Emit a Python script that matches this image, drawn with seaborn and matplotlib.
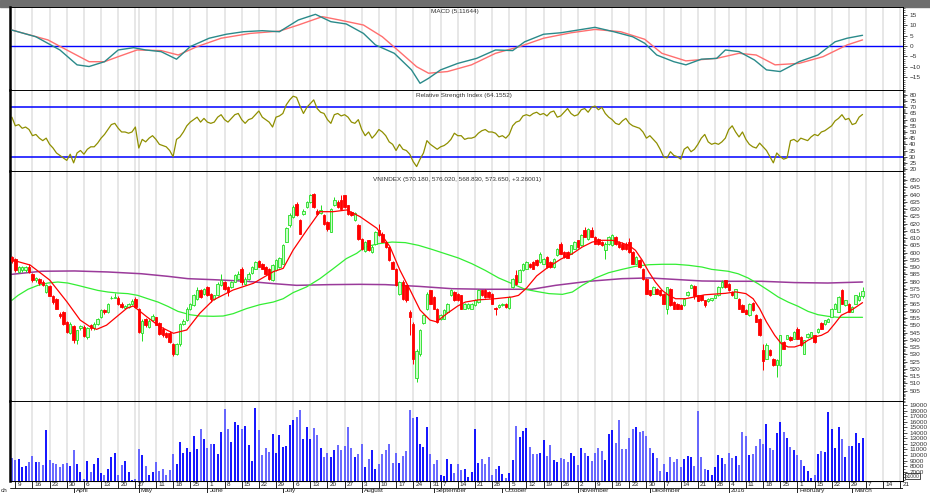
import numpy as np
import pandas as pd
import matplotlib
matplotlib.use("Agg")
import matplotlib.pyplot as plt
import seaborn as sns
from matplotlib.ticker import MultipleLocator, FixedLocator
from matplotlib.patches import Rectangle

# trading calendar (HOSE holidays removed)
holidays = pd.to_datetime(['2015-04-28', '2015-04-29', '2015-04-30', '2015-05-01',
                           '2015-09-01', '2015-09-02', '2016-01-01',
                           '2016-02-08', '2016-02-09', '2016-02-10', '2016-02-11', '2016-02-12'])

# daily candles, 6 Mar 2015 .. 4 Mar 2016
opens = [597, 595.5, 587, 588, 588, 590, 585, 581, 582, 580,
         573, 577, 570, 568, 557.5, 559, 552, 545, 549.5, 539.7,
         548, 549, 542, 550, 548, 551, 555.7, 560.5, 559.2, 568.5,
         569, 569, 565, 562, 562.6, 564.9, 568.3, 561.5, 545, 554.5,
         548.5, 553.5, 555.5, 551.8, 547.7, 545, 545, 537, 530, 537,
         551, 553.5, 561.5, 563.8, 568.3, 574, 571.8, 576.4, 571.8, 568.3,
         570.6, 577.5, 579.8, 576.4, 576.4, 579.8, 582, 589, 578.7, 582,
         586, 589, 594, 592.4, 590.1, 589, 581, 588, 590, 592.4,
         607.3, 618.8, 624.5, 633.7, 622.2, 626.8, 631.4, 634.9, 640.6, 629,
         627, 625.7, 621, 614.2, 632.5, 635, 636, 639.4, 632.5, 628,
         622.2, 618.8, 609.6, 601, 608.5, 600.5, 606.2, 615.4, 613.1, 607,
         603.9, 593.6, 589, 571.8, 579.8, 577.5, 559.2, 551, 514, 530,
         551.8, 561, 574, 569.5, 561.5, 554.6, 554.6, 559.2, 570.6, 573,
         571.8, 570.6, 561.5, 562, 561.5, 563.8, 566, 574, 574, 572.9,
         571.8, 561.8, 562.6, 563.8, 564.9, 562, 576.4, 584.4, 579.8, 587.8,
         589, 592.4, 593.6, 594.7, 593.6, 592.4, 597, 593.6, 590.1, 598.6,
         606.2, 600.5, 600.5, 599.3, 602.7, 608.5, 605, 615.4, 609.6, 615.4,
         610.8, 609.6, 607.3, 601.6, 606.2, 605, 610.8, 607.3, 606.2, 606.2,
         607.3, 600.5, 592.4, 594.7, 589, 582.1, 574, 571.8, 575.2, 574,
         571.8, 561.5, 575.2, 566, 564.9, 563.8, 563.8, 570.6, 575.7, 577,
         570.6, 570.6, 567.2, 566.5, 567.2, 568.8, 570.6, 576.4, 580.9, 578.7,
         572.9, 568.8, 568.3, 563.8, 560.3, 556.9, 565.6, 556.9, 554.6, 532.8,
         527.1, 532.8, 527.1, 522.5, 522.5, 538.5, 540.8, 542, 540.8, 547.7,
         542, 530.5, 541.9, 542, 543.1, 545.4, 551.8, 551.1, 552.3, 555.7,
         561.5, 559.2, 574, 563.8, 565, 559.2, 564.9, 567.5, 570.18]
highs = [598, 596, 591, 591, 591, 592, 586, 583, 582.5, 581,
         578.5, 578, 571, 569, 559, 560, 553, 552, 550, 547,
         550.5, 550, 549, 551, 552, 555, 561, 561, 565.5, 570,
         572.5, 570, 566, 564, 565.5, 568, 569.5, 562, 554, 555,
         554, 557.5, 556, 552.5, 548.5, 545.5, 546, 538, 537.5, 551.5,
         554, 562.5, 565.5, 571.5, 576.4, 575, 576, 577, 572.5, 571,
         579.5, 585.5, 580.5, 577, 580.5, 585, 587.5, 590, 583, 586.5,
         591, 594.5, 595, 593, 590.5, 589.5, 592, 595.5, 597, 606,
         618, 627, 632.5, 635, 623, 630, 635.5, 640.5, 641.2, 630,
         632.5, 626.5, 621.5, 631, 638.3, 636, 639.4, 640, 633, 628.5,
         628, 619.5, 610, 608, 609, 605, 615, 620, 614, 608,
         604.5, 594, 589.5, 580.5, 581, 578, 560.5, 552, 534, 547.5,
         558, 573, 574.5, 570, 562, 558, 561, 565.5, 575.2, 573.5,
         572.5, 571, 565.5, 565.5, 565.5, 568, 575, 574.5, 575.2, 573.5,
         572.5, 562.5, 564.5, 565.5, 565.5, 570, 582.5, 587.8, 588.5, 593,
         594, 593, 594, 595.5, 600.5, 596.5, 597.5, 594, 596.5, 603.5,
         607.3, 601, 601, 605.5, 608, 609, 612.5, 617.5, 617, 617.5,
         611.5, 610, 608, 607, 611.5, 612.5, 611.5, 608, 607, 607,
         610, 601, 598, 595.5, 589.5, 582.5, 574.5, 577, 576, 574.5,
         572.5, 576.4, 576, 566.5, 565.5, 564.5, 568.8, 573.5, 578.7, 578,
         571, 571, 567.5, 568.5, 569, 571, 577, 581, 581.5, 579,
         573.5, 575.2, 569, 564.5, 561, 565.5, 566, 557.5, 555, 537,
         538, 533.5, 527.5, 526.5, 543.5, 539, 543.5, 542.5, 546, 548.8,
         542.5, 540, 544.5, 545.5, 543.5, 548, 552.5, 553.8, 555, 562,
         565.5, 570, 575.2, 567.5, 565.5, 563, 571, 572.9, 576.02]
lows = [593, 587, 586, 587, 587, 586, 580, 580, 578, 577,
        572, 570, 565, 561, 555, 550, 545, 544, 537.5, 537,
        547, 542, 540.5, 547, 547, 550, 555, 558, 558.5, 568,
        568.5, 564, 562, 561.5, 562, 564, 562, 545, 539.5, 549,
        548, 553, 550, 543.5, 542, 541, 537.5, 529, 529.5, 536,
        550, 553, 560.5, 563, 567.5, 569, 571, 570, 566, 567.5,
        570, 577, 574.5, 570, 576, 579.5, 581.5, 578, 578, 581.5,
        585.5, 588.5, 590, 588.5, 585, 581, 580.5, 587.5, 589.5, 592,
        607, 618, 624, 625, 612.5, 626, 631, 634.5, 631, 626,
        626.8, 619, 615, 614, 632, 631, 630, 630.5, 626, 625,
        621.5, 609, 602, 600.5, 601, 599.5, 605.5, 611.5, 607, 603,
        594, 588.5, 577, 571, 567.5, 566, 543, 523.6, 511, 529,
        551, 560.5, 564.5, 561, 551.5, 553.5, 554, 558.5, 570, 566.5,
        566.5, 561, 561, 561.5, 561, 563, 565.5, 570, 569, 569,
        564.5, 557.4, 562, 563.5, 562, 561.5, 576, 578, 579.5, 587.5,
        588.5, 589.5, 588.5, 591, 593, 592, 589.5, 589.5, 589.5, 598,
        598.8, 596.5, 596, 599, 602.5, 603.5, 604.5, 610.5, 609, 610.5,
        606, 605.5, 604.5, 595.9, 605.5, 604.5, 605.5, 603.5, 602, 602,
        600, 592, 592, 589.5, 581.5, 571.5, 570, 571.5, 571.5, 570,
        564.5, 558, 563.5, 561, 561, 561, 563.5, 570, 575.5, 568,
        566.5, 567, 562.6, 566, 567, 568.5, 570, 576, 576, 573.5,
        570, 568.5, 561, 559, 557.5, 556.5, 560, 552, 542.5, 519,
        526.5, 529, 522, 514.4, 522, 533.5, 540.5, 539.5, 540.5, 540.5,
        536, 530, 541.5, 541.5, 538, 545, 547.5, 550.5, 552, 555.5,
        561, 559, 564.5, 563.5, 559, 559, 564.5, 567, 568.83]
closes = [594, 588, 590, 590, 590, 587, 581, 582.5, 579, 577.5,
          578, 570.5, 566, 561.5, 556.5, 551, 545.5, 551, 539.7, 546.5,
          549.5, 542.7, 548, 548, 551, 554.5, 560.3, 559, 564.9, 569,
          569.5, 565, 562.6, 563.5, 564.9, 567, 562.6, 545.4, 553, 550,
          553, 556.5, 550.5, 544.3, 543, 542, 538.5, 530, 537, 551,
          553, 561.5, 564.9, 570.6, 574, 569.5, 575.2, 570.6, 568.3, 570.6,
          578.7, 581, 575.2, 573, 579.8, 584.4, 585.5, 580, 582, 585.5,
          590, 593.6, 590.3, 589, 585.5, 582, 591.3, 594.7, 596, 605,
          617, 625.7, 631.4, 625.7, 613.1, 629, 634.9, 639.4, 631.4, 626.8,
          629.1, 620, 616.5, 630.3, 636, 631.4, 630.3, 631.4, 626.8, 625.7,
          627, 609.6, 602.7, 607.3, 601.6, 604, 614.2, 611.9, 607.3, 603.9,
          594.7, 589, 577.5, 579.8, 568.3, 567.2, 555.7, 527, 532, 546.5,
          556.9, 571.8, 565, 561.5, 552.3, 557.3, 560.3, 564.9, 574, 567.2,
          567.2, 561.5, 564.9, 564.9, 564.9, 567.2, 574, 570.6, 569.5, 569.5,
          565, 561.2, 563.8, 564.9, 562.6, 569.5, 582, 578.7, 587.8, 592.4,
          593.6, 590.1, 589, 591.3, 599.3, 595.9, 590.1, 590.1, 595.9, 602.7,
          599.3, 597, 596.3, 605, 607.3, 604, 611.9, 610.8, 616.5, 610.8,
          606.2, 606.2, 605, 606.2, 610.8, 611.9, 606.2, 603.9, 602.7, 602.7,
          600.5, 592.4, 597, 590.1, 582.1, 571.8, 570.6, 576.4, 571.8, 570.6,
          564.9, 576.4, 563.8, 561.5, 561.5, 561.5, 568.3, 572.9, 577.5, 570,
          566.7, 567.2, 564.2, 568.3, 568.8, 570.6, 576.4, 579.8, 576.4, 574,
          570.6, 574.7, 561.5, 559.2, 558, 564.9, 560.3, 552.3, 543.1, 525.2,
          536.2, 529.4, 522.5, 525.9, 543.1, 534, 543.1, 539.7, 545.4, 540.8,
          536.2, 539.7, 544.3, 545.4, 538.5, 547.7, 547.7, 553.4, 554.6, 561.5,
          564.9, 569.5, 564.9, 567.2, 559.2, 562.6, 570.6, 570.4, 573.65]
volume = [9500, 9040, 9280, 7840, 7960, 8800, 9820, 8800, 8680, 8140,
          14500, 9160, 8500, 8320, 7840, 8320, 8500, 8020, 10900, 8440,
          6880, 5600, 8920, 6940, 8320, 9400, 6760, 6400, 7420, 9640,
          10420, 6400, 8140, 8920, 7000, 5500, 5600, 11080, 10000, 8020,
          6400, 7000, 8800, 7120, 7480, 6400, 7240, 10120, 8320, 12340,
          10300, 11260, 10540, 13360, 11080, 14620, 12940, 11260, 12040, 12040,
          10180, 14080, 18220, 14680, 12280, 15940, 15460, 14680, 15220, 11740,
          8920, 18520, 14500, 9940, 11260, 10540, 13780, 10420, 13600, 11440,
          11680, 15460, 16240, 16840, 18040, 12940, 14980, 12940, 14800, 13540,
          11320, 9640, 10420, 9580, 10900, 11800, 10900, 11620, 14980, 11200,
          9640, 10120, 11980, 7840, 9280, 10840, 7480, 8380, 10180, 10900,
          11920, 8500, 10360, 8500, 9820, 10660, 18100, 16660, 16840, 12040,
          11440, 15100, 10240, 8440, 9040, 6400, 6160, 9280, 8320, 6760,
          8320, 7240, 7480, 6100, 6880, 14680, 8500, 9280, 8380, 9640,
          6400, 7480, 8020, 6520, 5920, 6700, 9040, 15160, 13240, 14320,
          14800, 11380, 10120, 10120, 10420, 12640, 9820, 11800, 9100, 8740,
          9520, 9280, 8740, 10420, 9820, 8200, 11200, 10360, 9820, 8980,
          10360, 11200, 10780, 9040, 13720, 14560, 12160, 16300, 11080, 11080,
          13000, 14740, 15100, 14140, 14320, 13360, 11200, 10420, 9460, 7120,
          8320, 7000, 9700, 8800, 9220, 7840, 9220, 9820, 9640, 8020,
          17920, 9640, 7420, 7240, 6400, 7880, 10060, 9460, 8320, 10360,
          9520, 9760, 8140, 14080, 13360, 10000, 10120, 11620, 12880, 11920,
          15520, 11200, 10960, 13960, 15940, 14080, 13000, 11380, 10840, 10000,
          9040, 8080, 7060, 5860, 6340, 10120, 10780, 10480, 17740, 14620,
          11200, 14980, 12940, 9640, 11700, 11560, 14020, 12100, 13060]
rsi = [62, 55, 56, 53, 54, 52, 47, 48, 45, 43, 45, 40, 37, 33, 31, 29, 27, 32, 25, 33,
       35, 32, 36, 38, 38, 41, 45, 48, 52, 56, 57, 53, 50, 50, 49, 50, 54, 37, 44, 42,
       45, 47, 44, 40, 39, 38, 35, 30, 44, 46, 50, 55, 58, 60, 62, 58, 61, 58, 57, 58,
       62, 64, 60, 58, 61, 64, 65, 60, 57, 60, 61, 64, 67, 62, 60, 58, 54, 62, 63, 65,
       72, 76, 79, 78, 71, 65, 70, 73, 76, 69, 66, 65, 60, 57, 64, 65, 63, 64, 62, 58,
       57, 60, 52, 47, 50, 45, 48, 52, 50, 47, 42, 40, 35, 40, 36, 35, 32, 26, 22, 28,
       33, 43, 40, 38, 36, 38, 39, 41, 44, 49, 47, 47, 44, 45, 45, 46, 49, 51, 52, 50,
       50, 49, 46, 47, 45, 48, 55, 58, 59, 63, 64, 63, 65, 66, 64, 65, 63, 66, 67, 62,
       63, 66, 69, 65, 63, 64, 68, 69, 66, 70, 71, 68, 70, 65, 62, 60, 57, 56, 59, 61,
       57, 55, 54, 53, 50, 45, 47, 44, 41, 36, 30, 29, 34, 31, 30, 28, 36, 38, 34, 36,
       40, 45, 48, 42, 40, 41, 40, 42, 45, 52, 55, 50, 46, 50, 44, 40, 38, 37, 41, 38,
       35, 30, 25, 33, 30, 28, 29, 43, 44, 42, 45, 44, 43, 46, 48, 47, 50, 51, 53, 55,
       59, 61, 64, 60, 61, 56, 57, 62, 64.2]

# moving averages (bar index, value)
ma_fast_x = [0, 5.3, 11, 16, 19.9, 22.8, 24.7, 27.6, 33.5, 35.4, 39.3, 43.2, 47.1, 51, 54.8,
             58.7, 64.5, 70.4, 76.2, 79.1, 82, 86, 89.8, 93.7, 97.6, 101.5, 106.4, 110.2,
             113.1, 116.1, 119, 121.9, 123.8, 126.8, 130, 132.2, 136, 140.9, 145.8, 147.7,
             150, 153, 156, 160, 163.4, 166.3, 169.2, 172.1, 175, 177, 179.9, 181.8, 183.8,
             185.7, 187.6, 189.6, 191.5, 193.5, 196.4, 199, 202, 205, 208, 211, 214, 216.1,
             218, 220, 222.4, 224.3, 226.3, 228.2, 230.2, 232.1, 234.1, 236, 237.9, 239.9,
             241.8, 243.8, 245.7, 248]
ma_fast_y = [595, 591.5, 581.2, 566.3, 553.6, 549, 547.2, 550.1, 561.7, 563.3, 555.9, 549,
             544.5, 546.8, 558.3, 567.4, 574.3, 578.9, 586.9, 589.2, 601.8, 615.6, 628.2,
             628.2, 629.4, 624.8, 616.8, 604.2, 588.1, 574.3, 560.5, 553.6, 552.4, 558,
             563.3, 566, 567.5, 568.3, 569.5, 570.6, 575.5, 584, 589.4, 595.5, 599.3, 603.9,
             607.3, 608.5, 608.5, 607.3, 605, 601.6, 594.7, 586.7, 579.8, 574, 570.6, 568.3,
             568.3, 569.5, 571, 571.5, 572, 573, 571.8, 568.3, 561.5, 552.3, 543.1, 537.4,
             535.1, 535.1, 536.7, 539.7, 542, 543.1, 545.4, 551.1, 556.9, 559.2, 561.9, 565.6]
ma_mid_x = [0, 1.8, 4.7, 7.6, 10.5, 13.4, 16.3, 19.2, 22.2, 25.1, 28, 30.9, 33.8, 36.7, 39.6,
            42.6, 45.5, 48.4, 51.9, 54.8, 58.7, 61.6, 64.5, 68.4, 72.3, 76.2, 79.1, 82, 85.9,
            89.8, 93.7, 97.5, 100.5, 103, 106.9, 110.8, 114.7, 118.6, 122.4, 126.3, 130.2,
            134.1, 138, 141.9, 145.8, 149.6, 152.7, 156.6, 160.5, 163.4, 166.3, 170.2, 174,
            177.9, 181.8, 185.7, 189.6, 193.5, 197.3, 201.2, 204, 208.8, 211.7, 214.6, 217.5,
            220.5, 223.4, 226.3, 229.2, 232.1, 235, 237.9, 240.8, 248]
ma_mid_y = [567.2, 570.6, 574.8, 577.5, 579.1, 579.8, 579.1, 577.5, 575.7, 574, 572.9, 572.2,
            571.8, 570.6, 568.3, 566, 563, 559.6, 557.3, 556.4, 556.2, 556.4, 558, 561.5,
            564.2, 566, 568.3, 572.5, 576.4, 582.1, 589, 595.9, 599.5, 603.9, 606.2, 607.3,
            606.9, 605, 602.3, 599.3, 596.3, 592.4, 587.8, 582.6, 578.7, 574.8, 573.4, 571.8,
            571.3, 572.9, 577.5, 582.6, 586.2, 588.5, 590.6, 591.7, 592, 592, 591.3, 590.1,
            588.5, 587.2, 585.5, 582.6, 578.7, 574.1, 569.5, 566, 563.1, 559.6, 557.3, 556.2,
            555.5, 555.5]
ma_slow_x = [0, 8.6, 18.3, 28, 37.7, 45.5, 51.3, 58.7, 68.4, 76.2, 83, 92.7, 101.4, 108.9,
             118.6, 128.3, 138, 151.6, 158.5, 168.2, 177.9, 185.7, 192.5, 201.2, 208.8, 218.5,
             228.2, 237.9, 248]
ma_slow_y = [585.1, 587.2, 587.4, 586.7, 585.5, 583.7, 582.1, 581.4, 580.3, 578.7, 577.5, 578,
             578.2, 578, 576.8, 575.2, 574.8, 574.8, 577.5, 580.3, 582.1, 582.6, 581.7, 580.5,
             580.3, 580.3, 579.4, 579.1, 579.8]

# MACD and signal (bar index, value)
macd_x = [0, 7, 14, 19, 22.5, 27, 31, 35.5, 39, 43.5, 48, 52, 57.5, 62.5, 67.5, 73, 78, 83.5,
          88.5, 93, 97.5, 102.5, 106, 111.5, 116.5, 119, 121.5, 125, 130, 135.5, 141, 146,
          149.5, 155, 160, 165, 170, 175.5, 181, 184.5, 188, 193, 196.5, 201, 205.5, 208, 212,
          216.5, 220, 224, 229.5, 235, 240, 243.5, 248]
macd_y = [7.6, 4.4, -1.9, -9.0, -9.8, -7.5, -1.9, -0.8, -1.9, -2.7, -6.3, -0.3, 3.7, 5.6, 6.8,
          7.3, 6.8, 12.4, 15.1, 11.6, 10.5, 6.0, 0.5, -3.5, -11.4, -17.8, -15.4, -11.4, -8.3,
          -5.9, -1.9, -2.2, 2.0, 5.6, 6.3, 7.6, 8.9, 6.8, 4.4, 1.3, -4.3, -7.5, -9.0, -6.3,
          -5.9, -1.9, -2.7, -6.7, -11.4, -12.2, -7.5, -4.3, 2.0, 3.7, 5.1]
signal_x = [0, 10.5, 16, 22.5, 27, 31, 36.5, 43.5, 48.5, 54, 61, 69.5, 78, 83.5, 90.5, 95.5,
            102.5, 108, 113, 118, 121.5, 127, 134, 141, 148, 155, 163, 170, 177.5, 184.5,
            189.5, 196.5, 205.5, 212, 217, 222.5, 229.5, 236.5, 243.5, 248]
signal_y = [7.6, 2.9, -1.9, -7.5, -7.5, -5.1, -1.9, -2.2, -4.3, -0.3, 3.7, 6.0, 7.1, 10.0,
            14.0, 12.4, 10.0, 4.4, -2.7, -9.9, -13.0, -12.2, -9.0, -3.5, -0.3, 3.7, 6.3, 7.9,
            6.8, 3.2, -3.5, -7.1, -5.9, -3.5, -4.3, -9.0, -8.3, -5.1, 0.5, 2.9]

title_macd = "MACD (5.11644)"
title_rsi = "Relative Strength Index (64.1552)"
title_px = "VNINDEX (570.180, 576.020, 568.830, 573.650, +3.26001)"

# ---------------------------------------------------------------
sns.set_style("white")
plt.rcParams['font.family'] = ['Liberation Sans', 'DejaVu Sans']

cal = pd.bdate_range('2015-02-23', '2016-03-25')
cal = cal[~cal.isin(holidays)]
first = cal.get_loc(pd.Timestamp('2015-03-06'))
pos = np.arange(len(cal)) - first
weeks = cal.to_period('W')
week_pos = [pos[i] for i in range(1, len(cal)) if weeks[i] != weeks[i - 1]]
week_lab = [str(cal[i].day) for i in range(1, len(cal)) if weeks[i] != weeks[i - 1]]
month_pos, month_lab = [], []
for i in range(1, len(cal)):
    if cal[i].month != cal[i - 1].month:
        month_pos.append(pos[i])
        month_lab.append('2016' if cal[i].month == 1 else cal[i].strftime('%B'))

n = len(closes)
idx = np.arange(n)
o, h, l, c = map(np.array, (opens, highs, lows, closes))
up = c >= o

X0, X1 = -0.55, 259.8
fig = plt.figure(figsize=(9.3, 4.93), dpi=100)
L, W = 10 / 930, 893 / 930


def box(y0, y1):
    return [L, 1 - y1 / 493, W, (y1 - y0) / 493]


ax_macd = fig.add_axes(box(7, 90))
ax_rsi = fig.add_axes(box(90, 171))
ax_px = fig.add_axes(box(171, 401))
ax_vol = fig.add_axes(box(401, 481))
ax_date = fig.add_axes(box(481, 493))

for ax in (ax_macd, ax_rsi, ax_px, ax_vol):
    ax.set_xlim(X0, X1)
    ax.set_xticks([])
    for p in week_pos:
        ax.axvline(p, color='#e0e0e0', lw=1.1, zorder=0)
    ax.yaxis.tick_right()
    ax.tick_params(axis='y', which='major', direction='out', length=3, width=0.6,
                   labelsize=4.6, pad=1.5, colors='#333333')
    ax.tick_params(axis='y', which='minor', direction='out', length=1.6, width=0.5,
                   colors='#333333')
    for s in ax.spines.values():
        s.set_color('black')
        s.set_linewidth(0.7)
    ax.spines['left'].set_linewidth(1.8)

# MACD
ax_macd.set_ylim(-21, 18.6)
ax_macd.axhline(0, color='#0000ff', lw=1.0, zorder=1)
sns.lineplot(x=macd_x, y=macd_y, ax=ax_macd, color='#2a8a8a', lw=1.0, zorder=3)
sns.lineplot(x=signal_x, y=signal_y, ax=ax_macd, color='#ff6f6f', lw=1.0, zorder=2)
ax_macd.yaxis.set_major_locator(FixedLocator([-15, -10, -5, 0, 5, 10, 15]))
ax_macd.yaxis.set_minor_locator(MultipleLocator(1))

# RSI
ax_rsi.set_ylim(18.4, 84)
ax_rsi.axhline(70, color='#0000ff', lw=1.1, zorder=1)
ax_rsi.axhline(30, color='#0000ff', lw=1.1, zorder=1)
sns.lineplot(x=idx, y=rsi, ax=ax_rsi, color='#8f8f00', lw=0.9, zorder=2)
ax_rsi.yaxis.set_major_locator(FixedLocator(list(range(20, 81, 5))))
ax_rsi.yaxis.set_minor_locator(MultipleLocator(1))

# price
ax_px.set_ylim(497.9, 656.2)
sns.lineplot(x=ma_slow_x, y=ma_slow_y, ax=ax_px, color='#9a3a9a', lw=1.1, zorder=2)
sns.lineplot(x=ma_mid_x, y=ma_mid_y, ax=ax_px, color='#33ee33', lw=0.9, zorder=2)
ax_px.vlines(idx, l, h, colors=np.where(up, '#22dd22', '#ff0000'), lw=0.7, zorder=3)
body = np.maximum(np.abs(c - o), 0.35)
ax_px.bar(idx, body, bottom=np.minimum(o, c), width=0.72,
          color=np.where(up, '#c8ffc8', '#ff0000'),
          edgecolor=np.where(up, '#22dd22', '#ff0000'), lw=0.6, zorder=4)
sns.lineplot(x=ma_fast_x, y=ma_fast_y, ax=ax_px, color='#ff0000', lw=0.9, zorder=5)
ax_px.yaxis.set_major_locator(FixedLocator(list(range(505, 651, 5))))
ax_px.yaxis.set_minor_locator(MultipleLocator(1))

# volume
ax_vol.set_ylim(5320, 19720)
ax_vol.vlines(idx, 0, volume, colors=np.where(up, '#0000ff', '#5a5aff'), lw=1.3, zorder=2)
ax_vol.yaxis.set_major_locator(FixedLocator(list(range(7000, 19001, 1000))))
ax_vol.yaxis.set_minor_locator(MultipleLocator(500))
ax_vol.text(1.003, 0.06, 'x1000', transform=ax_vol.transAxes, fontsize=3.6,
            ha='left', va='center', color='#333333',
            bbox=dict(boxstyle='square,pad=0.15', fc='white', ec='black', lw=0.5))

# titles
fig.text(455 / 930, 1 - 12 / 493, title_macd, ha='center', va='center', fontsize=4.6, color='#333333')
fig.text(464 / 930, 1 - 96 / 493, title_rsi, ha='center', va='center', fontsize=4.6, color='#333333')
fig.text(457 / 930, 1 - 179 / 493, title_px, ha='center', va='center', fontsize=4.6, color='#333333')

# date axis
ax_date.set_xlim(X0, X1)
ax_date.set_ylim(0, 12)
ax_date.axis('off')
ax_date.axhline(5.2, color='black', lw=0.6)
ax_date.axhline(11.8, color='black', lw=0.8)
last = -99
for p, t in zip(week_pos, week_lab):
    if X0 < p < X1:
        ax_date.vlines(p, 5.2, 12, color='black', lw=0.6)
        if p - last >= 3:
            ax_date.text(p + 0.6, 8.4, t, fontsize=4.6, ha='left', va='center', color='#222222')
        last = p
for p, t in zip(month_pos, month_lab):
    if p < 0:
        # only the tail of the first month name shows at the left edge
        fig.text(0.5 / 930, 2.4 / 493, 'ch', fontsize=4.6, ha='left', va='center',
                 color='#222222')
        continue
    ax_date.vlines(p, 0, 5.2, color='black', lw=0.6, clip_on=False)
    ax_date.text(p + 0.6, 2.4, t, fontsize=4.6, ha='left', va='center', color='#222222',
                 clip_on=False)

# header strip at the very top
fig.patches.append(Rectangle((0, 1 - 7 / 493), 1, 7 / 493, transform=fig.transFigure,
                             color='#6e6e6e', zorder=-1))

fig.savefig('out.png', dpi=100)
